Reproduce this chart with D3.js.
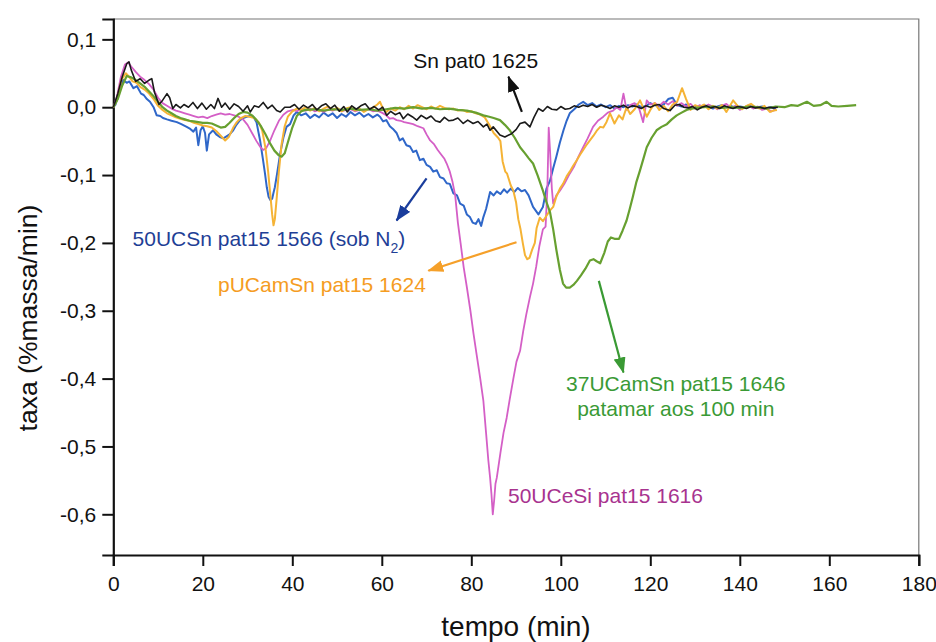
<!DOCTYPE html>
<html><head><meta charset="utf-8">
<script src="https://cdn.jsdelivr.net/npm/d3@7/dist/d3.min.js"></script>
<style>html,body{margin:0;padding:0;background:#fff;}svg{display:block;}</style>
</head><body><div id="chart"></div>
<script>
// ---------- DATA (time in min, rate in %massa/min) ----------
const xMajorTicks = [0,20,40,60,80,100,120,140,160,180];
const xMinorTicks = [10,30,50,70,90,110,130,150,170];
const yMajorTicks = [-0.6,-0.5,-0.4,-0.3,-0.2,-0.1,0.0,0.1];
const yMinorTicks = [-0.66,-0.64,-0.62,-0.58,-0.56,-0.54,-0.52,-0.48,-0.46,-0.44,-0.42,-0.38,-0.36,-0.34,-0.32,-0.28,-0.26,-0.24,-0.22,-0.18,-0.16,-0.14,-0.12,-0.08,-0.06,-0.04,-0.02,0.02,0.04,0.06,0.08,0.12];

const snPat0_1625 = [[0,0.0],[1,0.02],[2,0.045],[3,0.064],[3.5,0.067],[4,0.055],[5,0.038],[6,0.042],[7,0.035],[8,0.04],[8.6,0.042],[9.2,0.022],[10.2,0.004],[11,0.01],[12,0.02],[12.6,0.014],[13.3,-0.002],[14,0.004],[15,-0.001],[15.8,0.004],[16.8,0.0],[17.8,0.007],[18.8,-0.002],[19.8,0.006],[20.8,-0.003],[21.8,0.004],[22.6,-0.002],[23.4,0.013],[24.2,0.0],[25,0.006],[26,-0.003],[27,0.005],[28,0.001],[29,-0.006],[30,0.002],[30.6,-0.007],[31.5,0.002],[32.5,0.0],[33.5,0.007],[34.5,-0.002],[35.5,0.003],[36.5,-0.005],[37.3,-0.007],[38.3,0.0],[39.5,0.0],[40.5,0.004],[41.5,-0.003],[42.5,0.003],[43.5,-0.001],[44.5,0.004],[45.5,-0.004],[46.5,0.002],[47.5,0.005],[48.5,-0.002],[49.5,0.003],[50.5,-0.006],[51.5,0.001],[52.3,-0.007],[53.3,0.002],[54.3,-0.003],[55.3,0.002],[56.3,0.005],[57.3,-0.003],[58.3,0.001],[59.3,-0.004],[60.2,0.0],[61.1,-0.012],[62,-0.006],[63,-0.011],[64,-0.008],[64.8,-0.017],[65.8,-0.01],[66.8,-0.014],[67.8,-0.019],[68.8,-0.012],[70,-0.017],[71,-0.013],[72,-0.02],[73,-0.022],[74,-0.015],[75,-0.02],[76,-0.019],[77,-0.016],[78.2,-0.024],[79.2,-0.019],[80.4,-0.024],[81.5,-0.021],[82.7,-0.029],[83.5,-0.025],[84.2,-0.034],[84.9,-0.029],[86.4,-0.041],[87.5,-0.044],[89,-0.039],[90,-0.033],[90.9,-0.024],[92,-0.022],[93.1,-0.029],[94,-0.015],[95,-0.002],[96,-0.006],[97,0.001],[98,-0.003],[99.1,-0.004],[100,0.001],[101,-0.003],[102,-0.002],[103,0.002],[104,0.0],[105,0.003],[106,0.001],[107,0.004],[108,0.0],[109,0.003],[110,0.001],[111,-0.002],[112,0.002],[113,0.0],[114,0.003],[115,-0.001],[116,0.002],[117,0.001],[118,-0.002],[119,0.002],[120,0.0],[121,0.003],[122,0.004],[123,-0.002],[124.4,-0.005],[125.5,0.003],[126.5,0.004],[127.5,0.0],[128.5,-0.001],[129.5,0.001],[130.5,-0.004],[131.5,0.0],[132.5,0.002],[133.5,-0.001],[134.5,0.001],[135.5,-0.002],[136.5,0.002],[137.5,0.0],[138.5,-0.002],[139.5,0.001],[140.5,0.0],[141.5,-0.002],[142.5,0.001],[143.5,-0.001],[144.5,0.0],[145.5,-0.002],[146.5,0.0],[147.5,-0.001],[148.5,0.0]];

const ucsn50_1566 = [[0,0.0],[0.5,0.004],[1.2,0.02],[2.2,0.04],[3,0.036],[3.6,0.038],[4.5,0.028],[5.3,0.031],[6.2,0.02],[6.8,0.018],[7.5,0.012],[8.2,0.008],[9,0.0],[9.7,-0.012],[10.5,-0.013],[11.1,-0.016],[12,-0.018],[13,-0.02],[14.2,-0.022],[15.2,-0.025],[16.4,-0.029],[17.2,-0.032],[17.9,-0.036],[18.5,-0.03],[19,-0.056],[19.5,-0.034],[20,-0.028],[20.5,-0.038],[20.9,-0.064],[21.4,-0.04],[22.3,-0.034],[23,-0.04],[23.8,-0.044],[24.6,-0.046],[25.3,-0.043],[26,-0.04],[26.8,-0.034],[27.5,-0.026],[28.3,-0.019],[29,-0.016],[29.8,-0.014],[30.5,-0.013],[31.3,-0.014],[32,-0.022],[32.8,-0.049],[33.4,-0.075],[33.9,-0.098],[34.3,-0.118],[34.7,-0.132],[35.1,-0.137],[35.5,-0.135],[35.8,-0.126],[36.1,-0.118],[36.6,-0.098],[37.3,-0.068],[38,-0.045],[38.7,-0.029],[39.5,-0.025],[40.3,-0.012],[41,-0.007],[42,-0.012],[43,-0.009],[44,-0.016],[45,-0.011],[46,-0.015],[47,-0.008],[48,-0.013],[49,-0.009],[50,-0.016],[51,-0.01],[52,-0.014],[53,-0.007],[54,-0.012],[55,-0.008],[56,-0.014],[57,-0.01],[58,-0.015],[59,-0.011],[59.6,-0.014],[60.3,-0.021],[61,-0.019],[61.8,-0.028],[62.5,-0.032],[63.3,-0.038],[64,-0.049],[64.7,-0.046],[65.5,-0.056],[66.3,-0.058],[67,-0.066],[67.7,-0.064],[68.5,-0.078],[69.3,-0.076],[70,-0.085],[70.8,-0.088],[71.5,-0.095],[72.3,-0.093],[73,-0.103],[73.8,-0.105],[74.5,-0.112],[75.2,-0.113],[76,-0.127],[76.8,-0.13],[77.5,-0.142],[78.3,-0.145],[79,-0.158],[79.7,-0.162],[80.3,-0.17],[81,-0.172],[81.6,-0.165],[82.2,-0.175],[82.7,-0.162],[83.3,-0.15],[84.2,-0.125],[85,-0.13],[85.7,-0.124],[86.5,-0.128],[87.3,-0.121],[88,-0.126],[88.8,-0.12],[89.6,-0.125],[90.4,-0.119],[91.2,-0.124],[92,-0.122],[92.8,-0.13],[93.8,-0.147],[95,-0.158],[96,-0.147],[96.8,-0.12],[97.6,-0.108],[98.3,-0.09],[99,-0.073],[99.8,-0.052],[100.6,-0.034],[101.3,-0.02],[102,-0.009],[103,-0.003],[104,0.004],[105,0.008],[106,0.003],[107,0.006],[108,0.001],[109,0.004],[110,0.0],[111,0.003],[112,-0.002],[113,0.002],[114,0.0],[115,0.003],[116,0.001],[117,0.004],[118,0.0],[119,0.002],[120,0.006],[121,0.003],[122,0.001],[123,0.004],[124,0.012],[125,0.014],[126,0.003],[127,0.001],[128,0.004],[129,-0.001],[130,0.002],[131,0.0],[132,0.003],[133,0.001],[134,-0.002],[135,0.001],[136,0.003],[137,0.0],[138,0.002],[139,-0.001],[140,0.001],[141,0.0],[142,0.002],[143,-0.001],[144,0.0],[145,0.001],[146,-0.002],[147,0.0],[148,-0.003]];

const pUCamSn_1624 = [[0,0.0],[0.8,0.01],[1.8,0.04],[2.8,0.05],[3.5,0.045],[4.3,0.038],[5.2,0.036],[6,0.03],[7,0.026],[8,0.02],[9,0.012],[10,0.002],[11,-0.004],[12,-0.009],[13,-0.012],[14,-0.015],[15,-0.017],[16,-0.019],[17,-0.02],[18,-0.023],[19,-0.025],[20,-0.027],[21,-0.028],[22,-0.03],[23,-0.035],[24,-0.042],[25,-0.049],[25.8,-0.044],[26.8,-0.03],[27.6,-0.022],[28.5,-0.016],[29.5,-0.013],[30.5,-0.014],[31.5,-0.016],[32.5,-0.022],[33.3,-0.035],[34,-0.06],[34.6,-0.095],[35.1,-0.13],[35.5,-0.158],[35.8,-0.174],[36.1,-0.165],[36.5,-0.135],[37,-0.095],[37.6,-0.055],[38.3,-0.028],[39,-0.014],[40,-0.006],[41,-0.002],[42,-0.004],[43,0.0],[44,-0.005],[45,-0.001],[46,-0.006],[47,-0.002],[48,0.001],[49,-0.004],[50,-0.001],[51,-0.006],[52,-0.002],[53,0.0],[54,-0.005],[55,-0.002],[56,-0.007],[57,-0.003],[58,-0.001],[59,0.004],[59.6,0.008],[60.3,-0.003],[61,-0.007],[62,-0.002],[63,-0.005],[64,0.0],[65,-0.003],[66,0.002],[67,-0.002],[68,0.003],[69,0.0],[70,-0.003],[71,0.001],[72,-0.002],[73,0.002],[74,-0.001],[75,-0.003],[76,-0.002],[77,-0.005],[78,-0.004],[79,-0.007],[80,-0.006],[81,-0.009],[82,-0.011],[83,-0.015],[84,-0.026],[85,-0.038],[86,-0.045],[86.5,-0.05],[87,-0.08],[87.6,-0.095],[88,-0.098],[88.8,-0.115],[89.4,-0.123],[90,-0.14],[90.5,-0.165],[91,-0.18],[91.5,-0.2],[92,-0.218],[92.5,-0.224],[93,-0.222],[93.6,-0.21],[94.2,-0.2],[94.6,-0.178],[95.3,-0.163],[96,-0.168],[96.8,-0.16],[97.6,-0.152],[98.3,-0.147],[99,-0.132],[99.8,-0.12],[100.5,-0.113],[101.3,-0.102],[102,-0.095],[102.8,-0.086],[103.6,-0.078],[104.3,-0.07],[105,-0.063],[105.8,-0.055],[106.5,-0.049],[107.3,-0.042],[108,-0.035],[108.8,-0.029],[109.5,-0.03],[110.2,-0.022],[111,-0.009],[112,-0.024],[113,-0.012],[113.8,-0.018],[114.7,0.0],[115.5,-0.01],[116.5,-0.003],[117.7,0.01],[118.5,-0.002],[119.2,-0.014],[120,-0.004],[121,0.006],[122,-0.004],[123,0.002],[124,-0.006],[125,0.004],[126,0.008],[127.1,0.028],[128,0.012],[129,-0.004],[130,0.003],[131,0.0],[132,0.004],[133,-0.003],[134,0.002],[135,-0.002],[136,0.003],[137,-0.007],[138.5,0.01],[139.5,0.002],[140.5,-0.003],[141.5,0.002],[142.5,0.005],[143.5,0.0],[144.5,-0.002],[145.5,0.002],[146.7,-0.007],[147.5,-0.005],[148.3,-0.004]];

const ucesi50_1616 = [[0,0.0],[0.8,0.015],[1.7,0.045],[2.6,0.063],[3.3,0.066],[4,0.06],[5,0.052],[6,0.045],[7,0.04],[8,0.034],[9,0.026],[10,0.014],[11,0.006],[12,0.002],[13,-0.002],[14,-0.005],[15,-0.007],[16,-0.009],[17,-0.011],[18,-0.013],[19,-0.015],[20,-0.014],[21,-0.016],[22,-0.013],[23,-0.011],[24,-0.009],[25,-0.011],[26,-0.01],[27,-0.012],[28,-0.014],[29,-0.018],[30,-0.026],[31,-0.038],[32,-0.05],[33,-0.06],[33.5,-0.063],[34.2,-0.06],[35,-0.05],[36,-0.034],[37,-0.02],[38,-0.011],[39,-0.006],[40.2,-0.004],[41,-0.006],[42,-0.003],[43,-0.005],[44,-0.002],[45,-0.006],[46,-0.004],[47,-0.007],[48,-0.003],[49,-0.005],[50,-0.002],[51,-0.006],[52,-0.004],[53,-0.003],[54,-0.006],[55,-0.004],[56,-0.005],[57,-0.003],[58,-0.006],[59,-0.005],[60,-0.008],[61,-0.012],[61.8,-0.017],[62.5,-0.016],[63.3,-0.019],[64.2,-0.02],[65,-0.022],[66.3,-0.024],[67,-0.025],[68,-0.028],[69.3,-0.031],[70,-0.04],[70.8,-0.049],[71.6,-0.054],[72.5,-0.063],[73.3,-0.07],[74,-0.076],[74.5,-0.083],[75.2,-0.095],[75.8,-0.11],[76.4,-0.13],[77,-0.17],[77.6,-0.2],[78.3,-0.236],[79,-0.265],[79.8,-0.3],[80.5,-0.334],[81.2,-0.365],[82,-0.4],[82.7,-0.433],[83.3,-0.48],[83.8,-0.52],[84.2,-0.546],[84.5,-0.57],[84.8,-0.6],[85.1,-0.58],[85.4,-0.555],[85.7,-0.546],[86.5,-0.51],[87.2,-0.48],[87.9,-0.458],[88.6,-0.43],[89.4,-0.4],[90.1,-0.375],[90.9,-0.359],[91.6,-0.33],[92.3,-0.305],[93.1,-0.28],[93.8,-0.26],[94.5,-0.235],[95.2,-0.205],[96,-0.18],[96.6,-0.176],[97,-0.12],[97.3,-0.03],[97.6,-0.065],[98,-0.12],[98.3,-0.142],[99,-0.13],[99.8,-0.123],[100.8,-0.113],[102,-0.098],[103,-0.087],[104,-0.072],[105,-0.059],[106,-0.046],[107.2,-0.029],[108.3,-0.02],[109.5,-0.014],[110.5,-0.008],[111.7,-0.005],[112.5,0.0],[113.3,-0.004],[114,0.02],[114.7,-0.004],[115.5,0.003],[116.5,0.006],[117.5,-0.002],[118.4,-0.022],[119.2,0.01],[120,0.004],[121,0.006],[122,0.002],[123,0.008],[124,0.004],[125,0.009],[126,0.002],[127,0.006],[128,0.001],[129,0.005],[130,-0.002],[131,0.003],[132,0.0],[133,0.004],[134,0.001],[135,-0.003],[136,0.002],[137,0.005],[138,-0.001],[139,0.002],[140,-0.004],[141,0.0],[142,0.003],[143,-0.002],[144,0.001],[145,-0.004],[146,-0.002],[147,-0.006],[148,-0.004]];

const ucamsn37_1646 = [[0,0.0],[1,0.012],[2,0.032],[3,0.046],[4,0.044],[5,0.04],[6,0.035],[7,0.03],[8,0.023],[9,0.016],[10,0.008],[11,0.0],[12,-0.005],[13,-0.009],[14,-0.013],[15,-0.016],[16,-0.018],[17,-0.02],[18,-0.021],[19,-0.022],[20,-0.023],[21,-0.023],[22,-0.024],[23,-0.027],[24,-0.03],[25,-0.029],[26,-0.023],[27,-0.016],[28,-0.01],[29,-0.007],[30,-0.008],[31,-0.012],[32,-0.019],[33,-0.028],[34,-0.04],[35,-0.053],[36,-0.064],[37,-0.071],[37.6,-0.073],[38.3,-0.068],[39,-0.052],[40,-0.03],[41,-0.013],[42,-0.006],[43,-0.004],[45,-0.003],[47,-0.005],[49,-0.003],[51,-0.004],[53,-0.002],[55,-0.004],[57,-0.003],[59,-0.005],[61,-0.003],[63,-0.001],[65,-0.002],[67,0.0],[69,-0.002],[71,-0.001],[73,-0.003],[75,-0.002],[77,-0.004],[79,-0.005],[81,-0.008],[82.7,-0.012],[84,-0.014],[85,-0.016],[86.4,-0.019],[87.5,-0.026],[88.6,-0.034],[89.7,-0.045],[90.9,-0.059],[92,-0.068],[92.8,-0.075],[93.8,-0.083],[94.8,-0.1],[96,-0.123],[96.8,-0.14],[97.6,-0.155],[98.3,-0.18],[99,-0.21],[99.8,-0.24],[100.5,-0.26],[101.2,-0.266],[102,-0.266],[102.8,-0.262],[103.6,-0.256],[104.5,-0.248],[105.5,-0.238],[106.5,-0.226],[107.3,-0.224],[108,-0.227],[108.8,-0.23],[109.7,-0.215],[110.5,-0.198],[111.2,-0.192],[112,-0.194],[113,-0.194],[113.8,-0.182],[114.7,-0.167],[115.4,-0.15],[116.1,-0.132],[116.9,-0.11],[117.7,-0.093],[118.5,-0.075],[119.2,-0.059],[120.3,-0.045],[121.4,-0.034],[122.5,-0.029],[123.7,-0.025],[124.8,-0.018],[125.9,-0.012],[127,-0.008],[128.1,-0.004],[129.2,-0.002],[130.4,-0.001],[132,0.0],[134,0.001],[136,-0.001],[138,0.0],[140,-0.001],[142,0.001],[144,0.0],[146,-0.002],[148,0.001],[150,0.0],[151.5,0.003],[153,0.002],[155,0.008],[156.5,0.002],[158,0.003],[159.4,0.008],[160.5,0.002],[162,0.001],[164,0.002],[166,0.003]];

// annotation labels and arrows, in data coordinates [t, v]
const seriesNames = ["Sn pat0 1625","50UCSn pat15 1566","pUCamSn pat15 1624","37UCamSn pat15 1646","50UCeSi pat15 1616"];
const arrowSn0 = [[91.3,-0.007],[88.3,0.045]];
const arrowUCSn = [[70.0,-0.105],[63.3,-0.167]];
const arrowPUCam = [[90.1,-0.199],[70.4,-0.241]];
const arrowUCam37 = [[108.5,-0.256],[114.0,-0.391]];
const labelSn0 = [67.0,0.058];
const labelUCSn = [4.3,-0.205];
const labelPUCam = [23.4,-0.273];
const labelUCam37a = [125.7,-0.418];
const labelUCam37b = [125.7,-0.455];
const labelUCeSi = [88.2,-0.583];

// ---------- DRAW ----------
const W = 936, H = 642;
const FONT = "'Liberation Sans', Arial, Helvetica, sans-serif";
const svg = d3.select("#chart").append("svg").attr("width", W).attr("height", H)
  .style("font-family", FONT);
svg.append("rect").attr("width", W).attr("height", H).attr("fill", "#fff");

const x = d3.scaleLinear().domain([0,180]).range([113.3, 918.8]);
const y = d3.scaleLinear().domain([-0.66,0.13]).range([555, 19]);

// frame (top & right)
svg.append("path")
  .attr("d", `M${x(0)},${y(0.13)}H${x(180)}V${y(-0.66)}`)
  .attr("fill","none").attr("stroke","#777").attr("stroke-width",1.2);

const fmt = v => v.toFixed(1).replace(".", ",");

// axes
const gx = svg.append("g").attr("transform", `translate(0,${y(-0.66)})`);
gx.call(d3.axisBottom(x).tickValues(xMinorTicks).tickSize(6).tickFormat(""));
gx.call(d3.axisBottom(x).tickValues(xMajorTicks).tickSize(11).tickPadding(10).tickFormat(d3.format("d")));
const gy = svg.append("g").attr("transform", `translate(${x(0)},0)`);
gy.call(d3.axisLeft(y).tickValues(yMinorTicks).tickSize(6).tickFormat(""));
gy.call(d3.axisLeft(y).tickValues(yMajorTicks).tickSize(11).tickPadding(6).tickFormat(fmt));
[gx, gy].forEach(g => {
  g.selectAll(".domain").attr("stroke","#111").attr("stroke-width",2.2);
  g.selectAll(".tick line").attr("stroke","#111").attr("stroke-width",2);
  g.selectAll(".tick text").attr("fill","#111").style("font-size","21px").style("font-family", FONT);
});

// axis titles
svg.append("text").attr("x", 516).attr("y", 636).attr("text-anchor","middle")
  .style("font-size","28px").attr("fill","#111").text("tempo (min)");
svg.append("text").attr("transform","translate(37,318) rotate(-90)").attr("text-anchor","middle")
  .style("font-size","26.5px").attr("fill","#111").text("taxa (%massa/min)");

// curves
const line = d3.line().x(d => x(d[0])).y(d => y(d[1]));
const plot = svg.append("g");
const curves = [
  {data: ucsn50_1566, color: "#2f67c9", w: 2.0},
  {data: ucesi50_1616, color: "#d45fc6", w: 1.8},
  {data: pUCamSn_1624, color: "#f5b335", w: 2.0},
  {data: ucamsn37_1646, color: "#67a030", w: 2.2},
  {data: snPat0_1625, color: "#1a1a1a", w: 1.6}
];
curves.forEach(c => {
  plot.append("path").datum(c.data).attr("d", line)
    .attr("fill","none").attr("stroke", c.color).attr("stroke-width", c.w)
    .attr("stroke-linejoin","round");
});

// arrows
const defs = svg.append("defs");
function arrow(pts, color, id) {
  defs.append("marker").attr("id", id).attr("markerUnits","userSpaceOnUse")
    .attr("markerWidth",16).attr("markerHeight",12).attr("refX",15).attr("refY",6)
    .attr("orient","auto")
    .append("path").attr("d","M0,0L16,6L0,12Z").attr("fill", color);
  svg.append("line")
    .attr("x1", x(pts[0][0])).attr("y1", y(pts[0][1]))
    .attr("x2", x(pts[1][0])).attr("y2", y(pts[1][1]))
    .attr("stroke", color).attr("stroke-width", 2.2)
    .attr("marker-end", `url(#${id})`);
}
arrow(arrowSn0, "#111", "a0");
arrow(arrowUCSn, "#1a3d9c", "a1");
arrow(arrowPUCam, "#f5a02a", "a2");
arrow(arrowUCam37, "#3a9a34", "a3");

// labels
function label(pos, txt, color, anchor) {
  return svg.append("text").attr("x", x(pos[0])).attr("y", y(pos[1]))
    .attr("text-anchor", anchor || "start").attr("fill", color)
    .style("font-size","21px").text(txt);
}
label(labelSn0, seriesNames[0], "#111");
const t1 = label(labelUCSn, "", "#1f3f96");
t1.append("tspan").text(seriesNames[1] + " (sob N");
t1.append("tspan").attr("dy", 7).style("font-size","14px").text("2");
t1.append("tspan").attr("dy", -7).text(")");
label(labelPUCam, seriesNames[2], "#f59c22");
label(labelUCam37a, seriesNames[3], "#3a9a35", "middle");
label(labelUCam37b, "patamar aos 100 min", "#3a9a35", "middle");
label(labelUCeSi, seriesNames[4], "#a8338f");
</script></body></html>
